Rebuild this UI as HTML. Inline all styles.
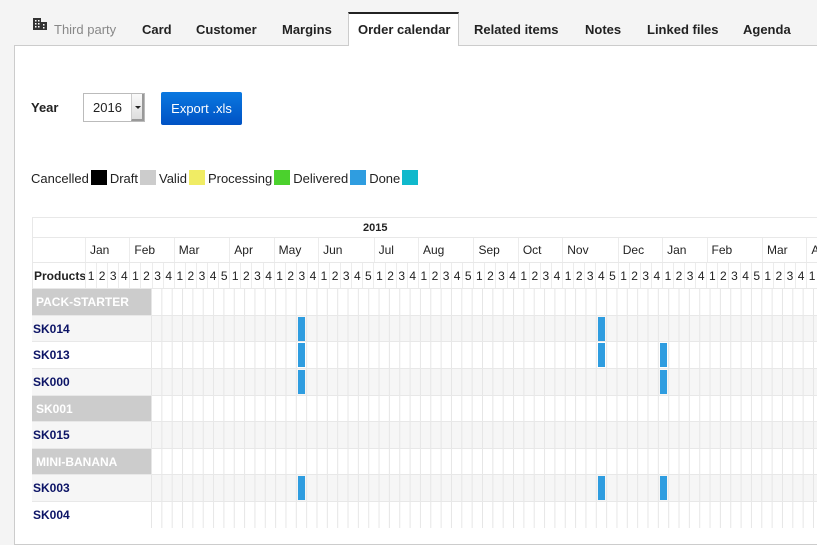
<!DOCTYPE html>
<html><head><meta charset="utf-8"><style>
*{box-sizing:border-box;margin:0;padding:0}
body{width:817px;height:529px;overflow:hidden;background:#f4f4f4;font-family:"Liberation Sans",sans-serif;position:relative;color:#222}
.a{position:absolute}
.tab{position:absolute;top:22px;font-size:13px;font-weight:bold;color:#222}
#cont{left:14px;top:45px;width:820px;height:500px;background:#fff;border:1px solid #ccc}
.sw{display:inline-block;width:16px;height:15px;vertical-align:-2px;margin:0 3px 0 2px}
.row{position:absolute;left:32px;width:790px;display:flex;overflow:hidden}
.row>*{flex-shrink:0}
.wk{display:flex;height:100%}
.wk span{flex-shrink:0;width:11.1px;text-align:center;border-left:1px solid #ececec;line-height:26px;font-size:12px}
.mo{flex-shrink:0;border-left:1px solid #ececec;font-size:12px;line-height:25px;padding-left:4px}
.body{position:absolute;left:32px;width:790px;height:27px;border-top:1px solid #e8e8e8}
.grid{position:absolute;left:119px;right:0;top:0;bottom:0;background-image:linear-gradient(to right,#e6e6e6 0 1px,transparent 1px);background-size:10.35px 100%}
.lab{position:absolute;left:0;top:0;height:26px;line-height:26px;font-size:12px;font-weight:bold;color:#0c1466;padding-left:1px}
.grp{width:119px;background:#ccc;color:#fff;padding-left:4px}
.bar{position:absolute;top:1px;width:7px;height:24px;background:#2f9de0}
</style></head><body>
<div class="a" style="left:33px;top:17px;width:14px;height:13px;font-size:13px">
<svg width="14" height="13"><rect x="0" y="1" width="8" height="12" fill="#333"/><rect x="8" y="5" width="6" height="8" fill="#333"/><g fill="#fff"><rect x="2" y="3" width="1.5" height="1.5"/><rect x="5" y="3" width="1.5" height="1.5"/><rect x="2" y="6" width="1.5" height="1.5"/><rect x="5" y="6" width="1.5" height="1.5"/><rect x="2" y="9" width="1.5" height="1.5"/><rect x="5" y="9" width="1.5" height="1.5"/><rect x="10" y="7" width="1.5" height="1.5"/><rect x="10" y="10" width="1.5" height="1.5"/></g></svg></div>
<div class="tab" style="left:54px;font-weight:normal;color:#888">Third party</div>
<div class="tab" style="left:142px">Card</div>
<div class="tab" style="left:196px">Customer</div>
<div class="tab" style="left:282px">Margins</div>
<div class="a" id="cont"></div>
<div class="a" style="left:348px;top:12px;width:111px;height:34px;background:#fff;border-top:2px solid #222;border-left:1px solid #ccc;border-right:1px solid #ccc"></div>
<div class="tab" style="left:358px">Order calendar</div>
<div class="tab" style="left:474px">Related items</div>
<div class="tab" style="left:585px">Notes</div>
<div class="tab" style="left:647px">Linked files</div>
<div class="tab" style="left:743px">Agenda</div>

<div class="a" style="left:31px;top:100px;font-size:13px;font-weight:bold">Year</div>
<div class="a" style="left:83px;top:93px;width:62px;height:29px;border:1px solid #bbb;background:#fff;font-size:13px;line-height:27px;padding-left:9px">2016</div>
<div class="a" style="left:131px;top:94px;width:13px;height:27px;background:linear-gradient(#fafafa,#ddd);border-left:1px solid #ccc;border-right:2px solid #999;border-bottom:2px solid #999"><div class="a" style="left:3px;top:12px;border-left:3px solid transparent;border-right:3px solid transparent;border-top:3px solid #222"></div></div>
<div class="a" style="left:161px;top:92px;width:81px;height:33px;background:linear-gradient(#0a78e0,#0052c4);border-radius:2px;color:#fff;font-size:13px;line-height:33px;text-align:center">Export .xls</div>

<div class="a" style="left:31px;top:170px;font-size:13px;line-height:16px;white-space:nowrap">Cancelled<span class="sw" style="background:#000"></span>Draft<span class="sw" style="background:#ccc"></span>Valid<span class="sw" style="background:#f0ec64"></span>Processing<span class="sw" style="background:#4bd12d"></span>Delivered<span class="sw" style="background:#2f9de0"></span>Done<span class="sw" style="background:#0fb9cc"></span></div>

<div class="row" style="top:217px;height:21px;border-top:1px solid #e8e8e8;border-left:1px solid #e8e8e8"><div style="position:absolute;left:330px;font-size:11px;font-weight:bold;line-height:20px">2015</div></div>
<div class="row" style="top:237px;height:25px;border-top:1px solid #e8e8e8;border-left:1px solid #e8e8e8">
<div style="width:52px"></div>
<div class="mo" style="width:44.4px">Jan</div><div class="mo" style="width:44.4px">Feb</div><div class="mo" style="width:55.5px">Mar</div><div class="mo" style="width:44.4px">Apr</div><div class="mo" style="width:44.4px">May</div><div class="mo" style="width:55.5px">Jun</div><div class="mo" style="width:44.4px">Jul</div><div class="mo" style="width:55.5px">Aug</div><div class="mo" style="width:44.4px">Sep</div><div class="mo" style="width:44.4px">Oct</div><div class="mo" style="width:55.5px">Nov</div><div class="mo" style="width:44.4px">Dec</div><div class="mo" style="width:44.4px">Jan</div><div class="mo" style="width:55.5px">Feb</div><div class="mo" style="width:44.4px">Mar</div><div class="mo" style="width:44.4px">Apr</div>
</div>
<div class="row" style="top:262px;height:26px;border-top:1px solid #e8e8e8;border-left:1px solid #e8e8e8">
<div style="width:52px;font-size:12px;font-weight:bold;line-height:26px;padding-left:1px;white-space:nowrap">Products</div>
<div class="wk"><span>1</span><span>2</span><span>3</span><span>4</span><span>1</span><span>2</span><span>3</span><span>4</span><span>1</span><span>2</span><span>3</span><span>4</span><span>5</span><span>1</span><span>2</span><span>3</span><span>4</span><span>1</span><span>2</span><span>3</span><span>4</span><span>1</span><span>2</span><span>3</span><span>4</span><span>5</span><span>1</span><span>2</span><span>3</span><span>4</span><span>1</span><span>2</span><span>3</span><span>4</span><span>5</span><span>1</span><span>2</span><span>3</span><span>4</span><span>1</span><span>2</span><span>3</span><span>4</span><span>1</span><span>2</span><span>3</span><span>4</span><span>5</span><span>1</span><span>2</span><span>3</span><span>4</span><span>1</span><span>2</span><span>3</span><span>4</span><span>1</span><span>2</span><span>3</span><span>4</span><span>5</span><span>1</span><span>2</span><span>3</span><span>4</span><span>1</span></div>
</div>

<div class="body" style="top:288px;background:#fff"><div class="grid"></div><div class="lab grp">PACK-STARTER</div></div>
<div class="body" style="top:315px;background:#f6f6f6"><div class="grid"></div><div class="lab">SK014</div><div class="bar" style="left:266px"></div><div class="bar" style="left:566px"></div></div>
<div class="body" style="top:341px;background:#fff"><div class="grid"></div><div class="lab">SK013</div><div class="bar" style="left:266px"></div><div class="bar" style="left:566px"></div><div class="bar" style="left:628px"></div></div>
<div class="body" style="top:368px;background:#f6f6f6"><div class="grid"></div><div class="lab">SK000</div><div class="bar" style="left:266px"></div><div class="bar" style="left:628px"></div></div>
<div class="body" style="top:395px;background:#fff"><div class="grid"></div><div class="lab grp">SK001</div></div>
<div class="body" style="top:421px;background:#f6f6f6"><div class="grid"></div><div class="lab">SK015</div></div>
<div class="body" style="top:448px;background:#fff"><div class="grid"></div><div class="lab grp">MINI-BANANA</div></div>
<div class="body" style="top:474px;background:#f6f6f6"><div class="grid"></div><div class="lab">SK003</div><div class="bar" style="left:266px"></div><div class="bar" style="left:566px"></div><div class="bar" style="left:628px"></div></div>
<div class="body" style="top:501px;background:#fff"><div class="grid"></div><div class="lab">SK004</div></div>
</body></html>
